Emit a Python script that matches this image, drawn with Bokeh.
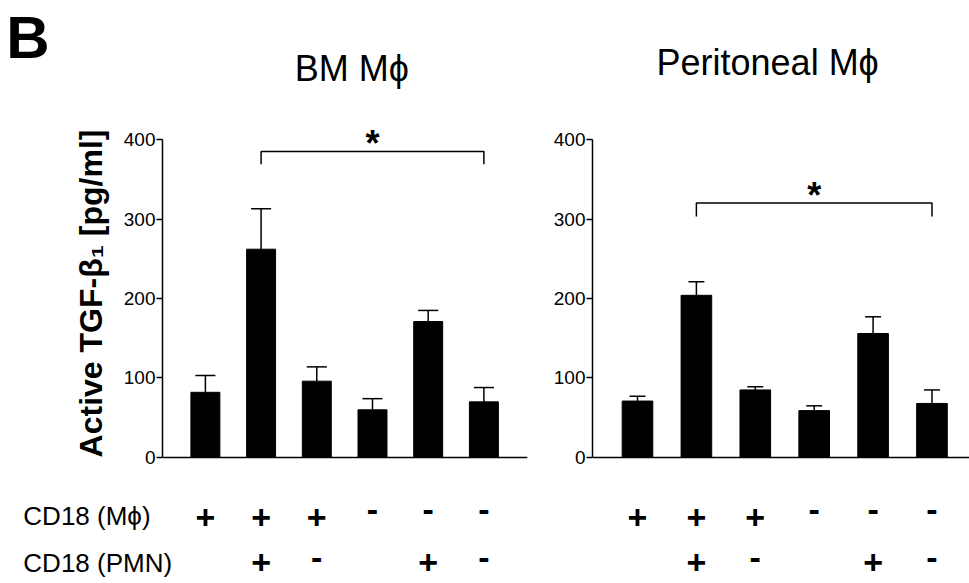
from bokeh.plotting import figure
from bokeh.models import FixedTicker, ColumnDataSource, Range1d
from bokeh.layouts import row, column
from bokeh.embed import file_html
from bokeh.resources import INLINE
from bokeh.core.properties import value

# ---- data ----
groups = [0, 1, 2, 3, 4, 5]
cd18_mac = ["+", "+", "+", "-", "-", "-"]
cd18_pmn = ["", "+", "-", "", "+", "-"]

bm_mean = [82, 262, 96, 60, 171, 70]
bm_sem = [21, 51, 18, 14, 14, 18]

per_mean = [71, 204, 85, 59, 156, 68]
per_sem = [6, 17, 4, 6, 21, 17]

y_ticks = [0, 100, 200, 300, 400]
bm_title = "BM M\u03d5"
per_title = "Peritoneal M\u03d5"
panel_letter = "B"
y_label = "Active TGF-\u03b2\u2081 [pg/ml]"
row_labels = ["CD18 (M\u03d5)", "CD18 (PMN)"]
sig_bm = (1, 5)
sig_per = (1, 5)

FONT = "Liberation Sans"
TOTAL_W = 969
W1, W2 = 548, 421
H_HEAD, H_MAIN, H_BOT = 100, 386, 97

# shared value ranges (same vertical scale in all three strips)
Y_HEAD = (449.06, 574.84)
Y_MAIN = (-36.48, 449.06)
Y_BOT = (-158.49, -36.48)
X_BM = (-0.77, 6.16)
X_PER = (-0.764, 5.637)
# the same x scales extended across the full-width strips
X_BM_FULL = (-3.678, 13.719)
X_PER_FULL = (-10.815, 5.637)

ROW1_Y, ROW2_Y = -75.8, -132.1
LAB1_Y, LAB2_Y = -74.2, -133.3


def base_fig(width, height, xr, yr):
    p = figure(width=width, height=height, x_range=Range1d(*xr), y_range=Range1d(*yr),
               output_backend="svg", toolbar_location=None,
               min_border_left=0, min_border_right=0,
               min_border_top=0, min_border_bottom=0,
               x_axis_location=None, y_axis_location=None)
    p.grid.visible = False
    p.outline_line_color = None
    p.background_fill_color = "white"
    p.border_fill_color = "white"
    return p


def make_panel(width, border_left, xr, means, sems, cap_w, bracket, star_y, sig, show_label):
    p = figure(width=width, height=H_MAIN, x_range=Range1d(*xr), y_range=Range1d(*Y_MAIN),
               output_backend="svg", toolbar_location=None,
               min_border_left=border_left, min_border_right=0,
               min_border_top=0, min_border_bottom=0,
               x_axis_location=None)
    p.grid.visible = False
    p.outline_line_color = None
    p.background_fill_color = "white"
    p.border_fill_color = "white"

    ax = p.yaxis[0]
    ax.bounds = (0, 400)
    ax.ticker = FixedTicker(ticks=y_ticks)
    ax.minor_tick_line_color = None
    ax.major_tick_in = 0
    ax.major_tick_out = 6
    ax.major_tick_line_width = 1.5
    ax.axis_line_width = 1.5
    ax.major_label_standoff = 1
    ax.major_label_text_font = FONT
    ax.major_label_text_font_size = "19px"
    ax.major_label_text_color = "black"
    if show_label:
        ax.axis_label = y_label
        ax.axis_label_text_font = FONT
        ax.axis_label_text_font_size = "32px"
        ax.axis_label_text_font_style = "bold"
        ax.axis_label_text_color = "black"
        ax.axis_label_standoff = 12

    tops = [m + s for m, s in zip(means, sems)]
    src = ColumnDataSource(dict(x=groups, top=means, err=tops,
                                cl=[g - cap_w / 2 for g in groups],
                                cr=[g + cap_w / 2 for g in groups]))
    p.segment(x0="x", y0="top", x1="x", y1="err", source=src,
              line_color="black", line_width=1.5)
    p.segment(x0="cl", y0="err", x1="cr", y1="err", source=src,
              line_color="black", line_width=1.5)
    p.vbar(x="x", top="top", bottom=0, width=0.52, source=src,
           fill_color="black", line_color="black")

    # baseline (x axis line)
    p.segment(x0=[xr[0]], y0=[0], x1=[groups[-1] + 0.78], y1=[0],
              line_color="black", line_width=1.5)

    # significance bracket + star
    a, b = sig
    top_y, drop = bracket
    p.multi_line(xs=[[a, a, b, b]], ys=[[top_y - drop, top_y, top_y, top_y - drop]],
                 line_color="black", line_width=1.5)
    p.text(x=[(a + b) / 2], y=[star_y], text=["*"], text_font=value(FONT),
           text_font_size="36px", text_font_style="bold", text_align="center",
           text_baseline="middle", text_color="black")
    return p


# ---- header strip: panel letter and panel titles ----
head = base_fig(TOTAL_W, H_HEAD, X_BM_FULL, Y_HEAD)
head.extra_x_ranges = {"per": Range1d(*X_PER_FULL)}
head.text(x=[-3.573], y=[528.9], text=[panel_letter], text_font=value(FONT),
          text_font_size="60px", text_font_style="bold", text_align="left",
          text_baseline="middle", text_color="black")
head.text(x=[2.63], y=[489.9], text=[bm_title], text_font=value(FONT),
          text_font_size="36px", text_align="center",
          text_baseline="middle", text_color="black")
head.text(x=[2.21], y=[496.4], text=[per_title], text_font=value(FONT),
          text_font_size="36px", text_align="center",
          text_baseline="middle", text_color="black", x_range_name="per")

# ---- bar panels ----
p1 = make_panel(W1, 162, X_BM, bm_mean, bm_sem, 0.36, (385, 16), 395, sig_bm, True)
p2 = make_panel(W2, 44, X_PER, per_mean, per_sem, 0.27, (320, 17), 330, sig_per, False)

# ---- bottom strip: genotype rows ----
bot = base_fig(TOTAL_W, H_BOT, X_BM_FULL, Y_BOT)
bot.extra_x_ranges = {"per": Range1d(*X_PER_FULL)}
bot.text(x=[-3.268, -3.268], y=[LAB1_Y, LAB2_Y], text=row_labels, text_font=value(FONT),
         text_font_size="26px", text_align="left", text_baseline="middle",
         text_color="black")
for rng in ("default", "per"):
    for signs, ry, moff in ((cd18_mac, ROW1_Y, -8), (cd18_pmn, ROW2_Y, -5)):
        xs = [g for g, s in zip(groups, signs) if s]
        ts = [s for s in signs if s]
        offs = [moff if s == "-" else 0 for s in ts]
        bot.text(x=xs, y=[ry] * len(xs), text=ts, y_offset=offs,
                 text_font=value(FONT), text_font_size="34px",
                 text_font_style="bold", text_align="center",
                 text_baseline="middle", text_color="black", x_range_name=rng)

layout = column(head, row(p1, p2), bot)
open("out.html", "w").write(file_html(layout, INLINE))
